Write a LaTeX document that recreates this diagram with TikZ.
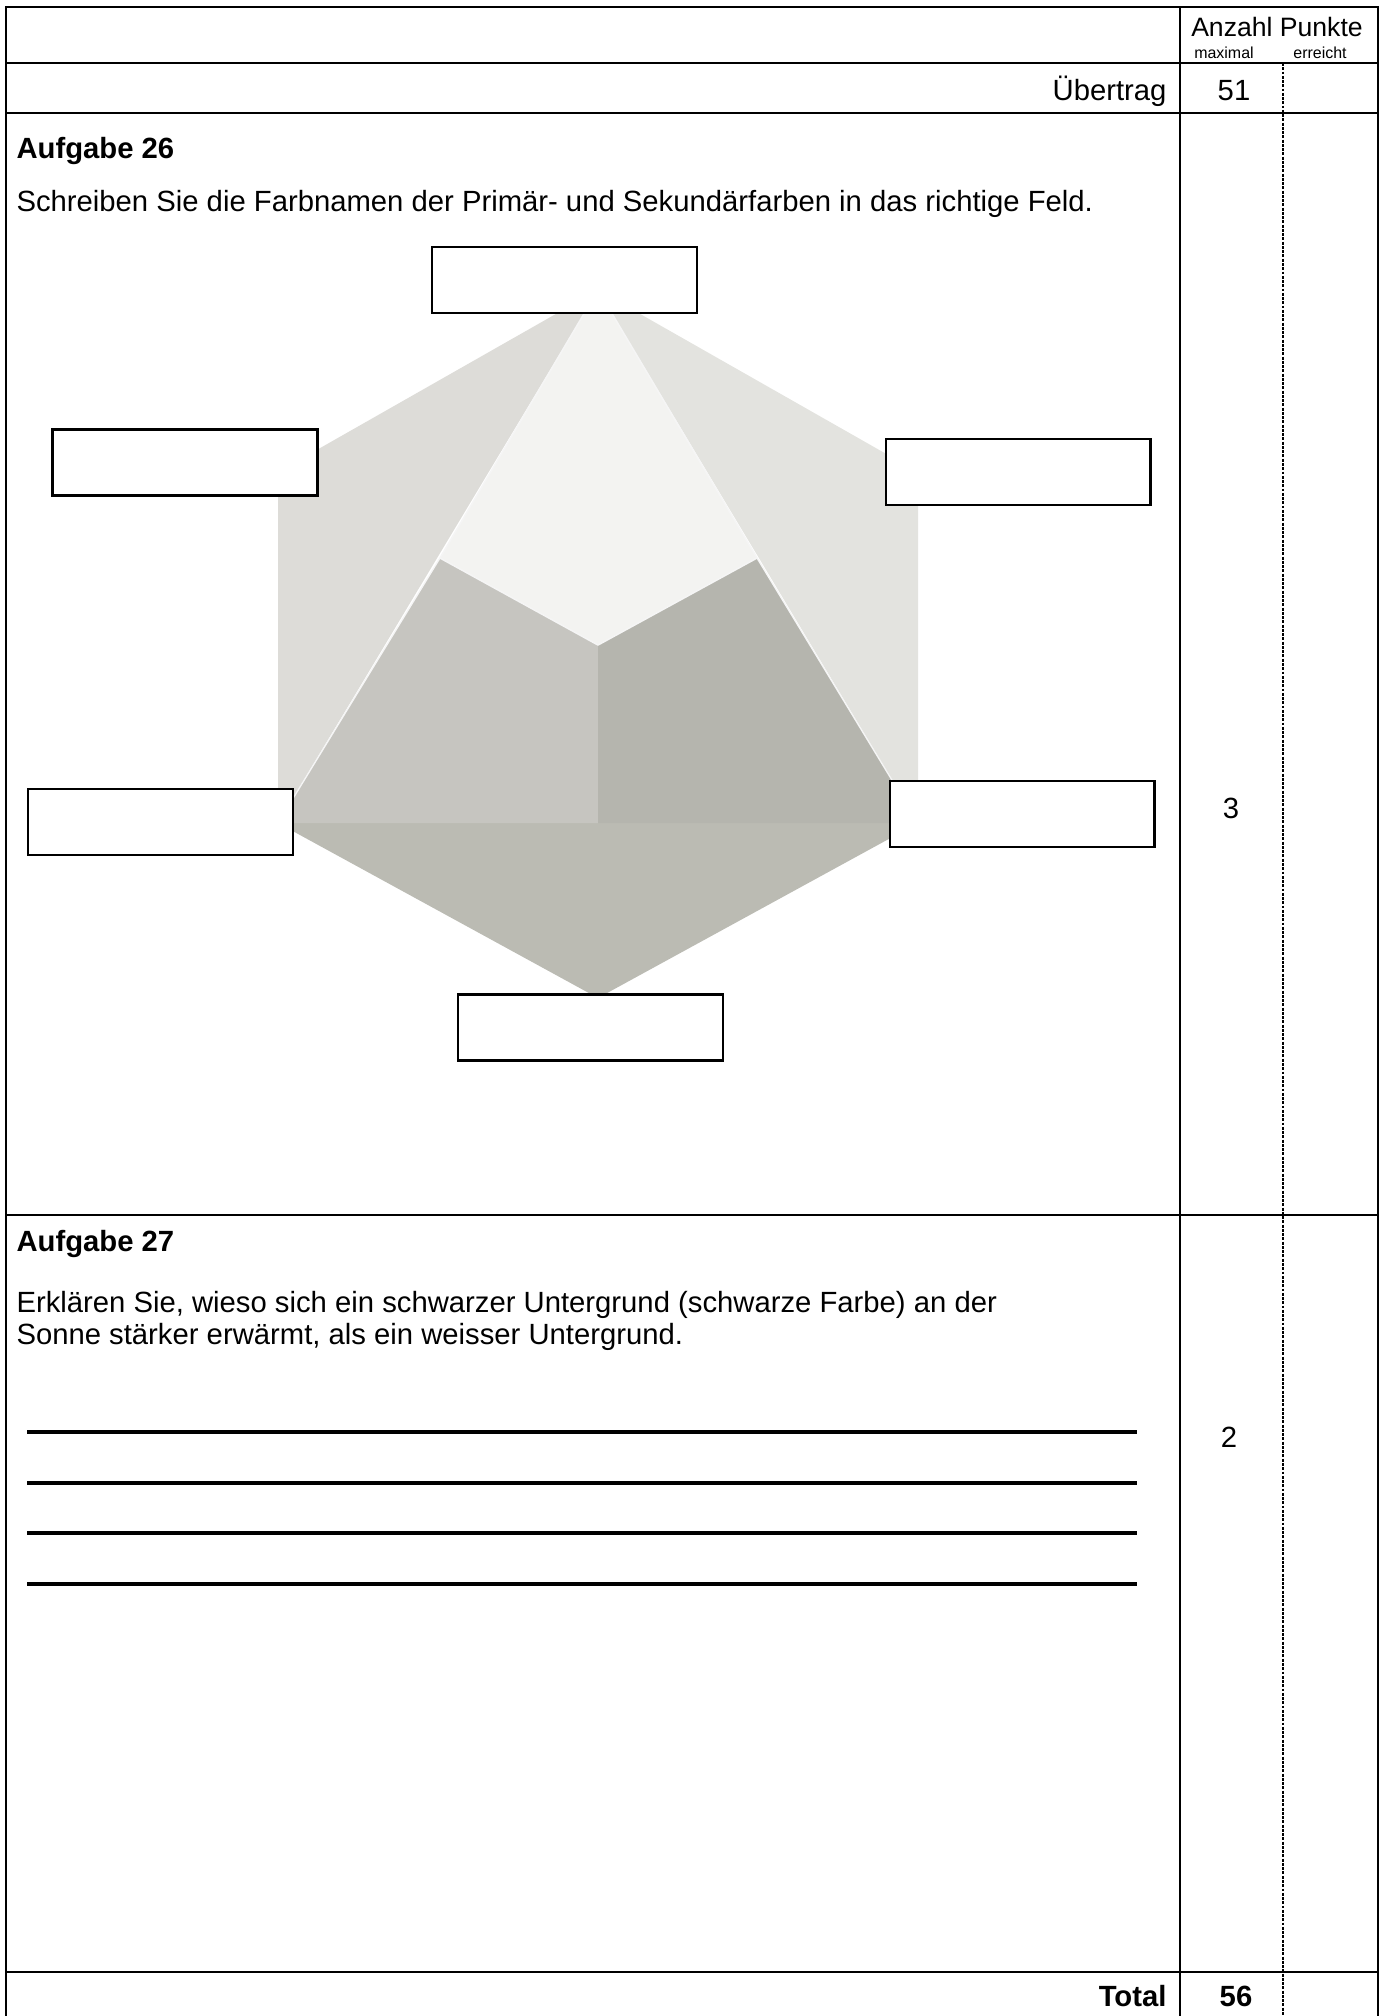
\documentclass[tikz,border=0pt]{standalone}
\usepackage{fontspec}
\setmainfont{Liberation Sans}
\definecolor{hexL}{HTML}{DDDCD8}
\definecolor{hexR}{HTML}{E3E3DF}
\definecolor{kiteC}{HTML}{F3F3F1}
\definecolor{quadL}{HTML}{C6C5C0}
\definecolor{quadR}{HTML}{B5B5AE}
\definecolor{botC}{HTML}{BBBBB3}
\begin{document}
\begin{tikzpicture}[x=0.376pt,y=-0.376pt,
  frame/.style={line width=0.95pt},
  dashcol/.style={line width=0.65pt, dash pattern=on 1.1pt off 0.5pt},
  answerbox/.style={draw, line width=0.8pt, fill=white, minimum width=99.6pt, minimum height=24.8pt, inner sep=0pt},
  txt/.style={font=\fontsize{11}{12.65}\selectfont, inner sep=0pt},
  btxt/.style={font=\fontsize{11}{12.65}\selectfont\bfseries, inner sep=0pt},
  hdr/.style={font=\fontsize{10}{12}\selectfont, inner sep=0pt},
  smalltxt/.style={font=\fontsize{6}{7}\selectfont, inner sep=0pt},
  ansline/.style={line width=1.4pt}]
\useasboundingbox (0,0) rectangle (1387,2016);
% hexagon coordinates
\coordinate (apex) at (598,290);
\coordinate (ul) at (278,472);
\coordinate (ll) at (278,823);
\coordinate (bt) at (598,998);
\coordinate (lr) at (918,823);
\coordinate (ur) at (918,472);
\coordinate (kl) at (440,558);
\coordinate (kc) at (598,645);
\coordinate (kr) at (757,558);
\coordinate (ml) at (598,823);
% hexagon regions
\fill[hexL] (apex) -- (ul) -- (ll) -- cycle;
\fill[hexR] (apex) -- (ur) -- (lr) -- cycle;
\fill[botC] (ll) -- (bt) -- (lr) -- cycle;
\fill[quadL] (kl) -- (kc) -- (ml) -- (ll) -- cycle;
\fill[quadR] (kr) -- (kc) -- (ml) -- (lr) -- cycle;
\fill[kiteC] (apex) -- (kl) -- (kc) -- (kr) -- cycle;
\draw[white!96!black, line width=0.6pt, line join=round] (apex) -- (kl) -- (kc) -- (kr) -- cycle;
\draw[white!96!black, line width=0.5pt] (kl) -- (ll) (kr) -- (lr);
% answer boxes
\node[answerbox] (btop) at (564.5,280) {};
\node[answerbox] (bul) at (185,462.5) {};
\node[answerbox] (bur) at (1018,472) {};
\node[answerbox] (bll) at (160.5,822) {};
\node[answerbox] (blr) at (1022,814) {};
\node[answerbox] (bbot) at (590.5,1027.5) {};
% table frame
\draw[frame] (6,2016) -- (6,7) -- (1378,7) -- (1378,2016);
\draw[frame] (6,63) -- (1378,63);
\draw[frame] (6,113) -- (1378,113);
\draw[frame] (6,1215) -- (1378,1215);
\draw[frame] (6,1972) -- (1378,1972);
\draw[frame] (1180,7) -- (1180,2016);
\draw[dashcol] (1283,63) -- (1283,2016);
% header texts
\node[hdr, anchor=base] (anz) at (1277,36) {Anzahl Punkte};
\node[smalltxt, anchor=base] (max) at (1224,58) {maximal};
\node[smalltxt, anchor=base] (err) at (1320,58) {erreicht};
\node[txt, anchor=base east] (ueb) at (1167,100) {Übertrag};
\node[txt, anchor=base] (v51) at (1234,100) {51};
% Aufgabe 26
\node[btxt, anchor=base west] (a26) at (16,158) {Aufgabe 26};
\node[txt, anchor=base west] (t26) at (16,211) {Schreiben Sie die Farbnamen der Primär- und Sekundärfarben in das richtige Feld.};
\node[txt, anchor=base] (p26) at (1231,818) {3};
% Aufgabe 27
\node[btxt, anchor=base west] (a27) at (16,1251) {Aufgabe 27};
\node[txt, anchor=base west] (t27a) at (16,1312) {Erklären Sie, wieso sich ein schwarzer Untergrund (schwarze Farbe) an der};
\node[txt, anchor=base west] (t27b) at (16,1344) {Sonne stärker erwärmt, als ein weisser Untergrund.};
\node[txt, anchor=base] (p27) at (1229,1447) {2};
\coordinate (l1a) at (27,1432); \coordinate (l1b) at (1137,1432);
\coordinate (l2a) at (27,1483); \coordinate (l2b) at (1137,1483);
\coordinate (l3a) at (27,1533); \coordinate (l3b) at (1137,1533);
\coordinate (l4a) at (27,1584); \coordinate (l4b) at (1137,1584);
\draw[ansline] (l1a) -- (l1b);
\draw[ansline] (l2a) -- (l2b);
\draw[ansline] (l3a) -- (l3b);
\draw[ansline] (l4a) -- (l4b);
% total
\node[btxt, anchor=base east] (tot) at (1167,2006) {Total};
\node[btxt, anchor=base] (v56) at (1236,2006) {56};
\end{tikzpicture}
\end{document}
